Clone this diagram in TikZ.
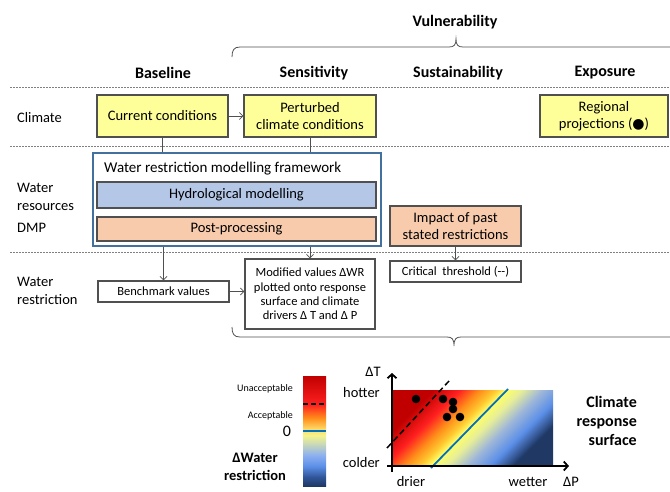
\documentclass[tikz,border=0pt]{standalone}
\usepackage{fontspec}
\setmainfont{Carlito}
\newfontfamily\symfont{DejaVu Sans}
\usetikzlibrary{arrows.meta}
\definecolor{yfill}{HTML}{FFFF99}
\definecolor{bgray}{HTML}{505050}
\definecolor{fwblue}{HTML}{41719C}
\definecolor{hydro}{HTML}{B4C7E7}
\definecolor{peach}{HTML}{F8CBAD}
\definecolor{sepgray}{HTML}{808080}
\definecolor{lineblue}{HTML}{0070C0}
\definecolor{cNavy}{HTML}{1F3864}
\definecolor{cDblue}{HTML}{2F5597}
\definecolor{cBlue}{HTML}{5B8FE8}
\definecolor{cLblue}{HTML}{8DB0F0}
\definecolor{cGrey}{HTML}{C8D8B8}
\definecolor{cPale}{HTML}{F4F48C}
\definecolor{cYor}{HTML}{FFD966}
\definecolor{cYel}{HTML}{FFFF66}
\definecolor{cYor2}{HTML}{FFC830}
\definecolor{cPgreen}{HTML}{E6EE99}
\definecolor{cGblue}{HTML}{A0B8D8}
\definecolor{cOrange}{HTML}{FF8C1A}
\definecolor{cRed}{HTML}{FF2020}
\definecolor{cDred}{HTML}{C00000}
\pgfdeclareverticalshading{cbarshade}{100bp}{color(0bp)=(cNavy); color(25bp)=(cNavy); color(29bp)=(cDblue); color(34bp)=(cBlue); color(39bp)=(cLblue); color(44bp)=(cGrey); color(48bp)=(cPale); color(51bp)=(cYor); color(56bp)=(cOrange); color(62bp)=(cRed); color(75bp)=(cDred); color(100bp)=(cDred)}
\pgfdeclareverticalshading{plotshade}{100bp}{color(0bp)=(cNavy); color(26.5bp)=(cNavy); color(33.5bp)=(cBlue); color(40.6bp)=(cGblue); color(46.7bp)=(cPgreen); color(51.4bp)=(cYel); color(54.7bp)=(cYor2); color(59.4bp)=(cOrange); color(65.5bp)=(cRed); color(73.5bp)=(cDred); color(100bp)=(cDred)}
\newcommand\fmain{\fontsize{14.5}{17.5}\selectfont}
\newcommand\fsml{\fontsize{12.5}{14.4}\selectfont}
\newcommand\fhd{\bfseries\fontsize{16}{19}\selectfont}
\newcommand\ftiny{\fontsize{10}{12}\selectfont}
\tikzset{
  ybox/.style={draw=bgray, fill=yfill, line width=1.1pt, align=center, inner sep=0pt, font=\fmain},
  wbox/.style={draw=bgray, fill=white, line width=1.1pt, align=center, inner sep=0pt, font=\fsml},
  pbox/.style={draw=bgray, fill=peach, line width=1.1pt, align=center, inner sep=0pt, font=\fmain},
  hbox/.style={draw=bgray, fill=hydro, line width=1.1pt, align=center, inner sep=0pt, font=\fmain},
  fwbox/.style={draw=fwblue, fill=white, line width=1.6pt, inner sep=0pt},
  sepline/.style={draw=sepgray, line width=0.7pt, dash pattern=on 2pt off 1pt},
  conn/.style={draw=bgray, line width=0.8pt},
  arr/.style={conn, -{Straight Barb[length=3.5pt,width=7pt]}},
  brace/.style={draw=bgray, line width=0.8pt},
  head/.style={font=\fhd, inner sep=0pt},
  rowlab/.style={font=\fmain, anchor=west, align=left, inner sep=0pt},
  axisln/.style={draw=black, line width=1.8pt, -{Straight Barb[length=4pt,width=9pt]}},
  plab/.style={font=\fmain, inner sep=0pt},
}
\begin{document}
\begin{tikzpicture}[x=1pt,y=-1pt]
\useasboundingbox (0,0) rectangle (670,491);

% separators
\draw[sepline] (10,87) -- (670,87);
\draw[sepline] (10,146) -- (670,146);
\draw[sepline] (10,252) -- (670,252);

% top brace and title
\node[head] (vuln) at (455,22) {Vulnerability};
\draw[brace] (232,57) .. controls (232,50) and (234,47) .. (240,47) -- (449,47)
  .. controls (454,47) and (456,45) .. (456,39)
  .. controls (456,45) and (458,47) .. (463,47) -- (672,47);

% column headers
\node[head] (hbase) at (163,73) {Baseline};
\node[head] (hsens) at (314,73) {Sensitivity};
\node[head] (hsust) at (458,73) {Sustainability};
\node[head] (hexpo) at (605,73) {Exposure};

% row labels
\node[rowlab] (rclim) at (17,118) {Climate};
\node[rowlab] (rwat) at (17,197) {Water\\resources};
\node[rowlab] (rdmp) at (17,228) {DMP};
\node[rowlab] (rwr) at (17,291) {Water\\restriction};

% climate row
\node[ybox, minimum width=131pt, minimum height=42pt] (cur) at (162.5,116) {Current conditions};
\node[ybox, minimum width=132pt, minimum height=42pt] (pert) at (310,116) {Perturbed\\climate conditions};
\node[ybox, minimum width=128pt, minimum height=42pt] (reg) at (604,116) {Regional\\projections ({\symfont\fontsize{14}{14}\selectfont ●})};

% framework
\node[fwbox, minimum width=288pt, minimum height=93pt] (fw) at (237,199.5) {};
\node[font=\fontsize{15}{18}\selectfont, anchor=west, inner sep=0pt] (fwt) at (104,169) {Water restriction modelling framework};
\node[hbox, minimum width=279pt, minimum height=26pt] (hyd) at (236.5,195) {Hydrological modelling};
\node[pbox, minimum width=279pt, minimum height=24pt] (post) at (236.5,229) {Post-processing};
\node[pbox, minimum width=131pt, minimum height=40pt] (imp) at (455.5,226) {Impact of past\\stated restrictions};

% water restriction row
\node[wbox, minimum width=131pt, minimum height=21pt] (bench) at (163.5,291.5) {Benchmark values};
\node[wbox, minimum width=130pt, minimum height=70pt] (mod) at (310,294) {Modified values ΔWR\\plotted onto response\\surface and climate\\drivers Δ T and Δ P};
\node[wbox, minimum width=131pt, minimum height=21pt] (crit) at (455.5,271.5) {Critical\ \ threshold (-{}-)};

% connectors
\draw[arr] (cur.east) -- (pert.west);
\draw[conn] (cur.south) -- (cur.south |- fw.north);
\draw[conn] (pert.south) -- (pert.south |- fw.north);
\draw[arr] (bench.north |- fw.south) -- (bench.north);
\draw[arr] (mod.north |- fw.south) -- (mod.north);
\draw[arr] (imp.south) -- (crit.north);
\draw[arr] (bench.east) -- (bench.east -| mod.west);

% bottom brace
\draw[brace] (232,327) .. controls (232,334) and (234,337) .. (240,337) -- (447,337)
  .. controls (452,337) and (454,339) .. (454,346)
  .. controls (454,339) and (456,337) .. (461,337) -- (672,337);

% colour bar
\shade[shading=cbarshade] (303,376) rectangle (326,486);
\draw[black, line width=1.3pt, dash pattern=on 5pt off 3pt] (303,404) -- (326,404);
\draw[lineblue, line width=1.8pt] (303,431) -- (326,431);
\node[font=\ftiny, anchor=east, inner sep=0pt] (unacc) at (293,389) {Unacceptable};
\node[font=\ftiny, anchor=east, inner sep=0pt] (acc) at (293,416) {Acceptable};
\node[font=\fontsize{16}{19}\selectfont, inner sep=0pt] (zero) at (287,431) {0};
\node[font=\bfseries\fontsize{14.5}{18}\selectfont, align=center, inner sep=0pt] (dwr) at (255,467) {ΔWater\\restriction};

% response surface
\shade[shading=plotshade, shading angle=45] (393,390) rectangle (553,466);
\draw[black, line width=1.5pt, dash pattern=on 6pt off 3.5pt] (387,448) -- (449,381);
\draw[lineblue, line width=1.8pt] (431,468) -- (508,389);
\draw[axisln] (392,472) -- (392,373);
\draw[axisln] (387,466) -- (569,466);
\foreach \px/\py in {416/399, 443/399, 453/402, 453/409, 447/417, 460/417}
  \fill[black] (\px,\py) circle[radius=4.3];
\node[plab] (dT) at (373,372) {ΔT};
\node[plab, anchor=east] (hot) at (380,393) {hotter};
\node[plab, anchor=east] (cold) at (380,463) {colder};
\node[plab] (dry) at (411,482) {drier};
\node[plab] (wet) at (528,482) {wetter};
\node[plab] (dP) at (571,482) {ΔP};
\node[font=\fhd, align=right, anchor=east, inner sep=0pt] (crs) at (637,421) {Climate\\response\\surface};
\end{tikzpicture}
\end{document}
